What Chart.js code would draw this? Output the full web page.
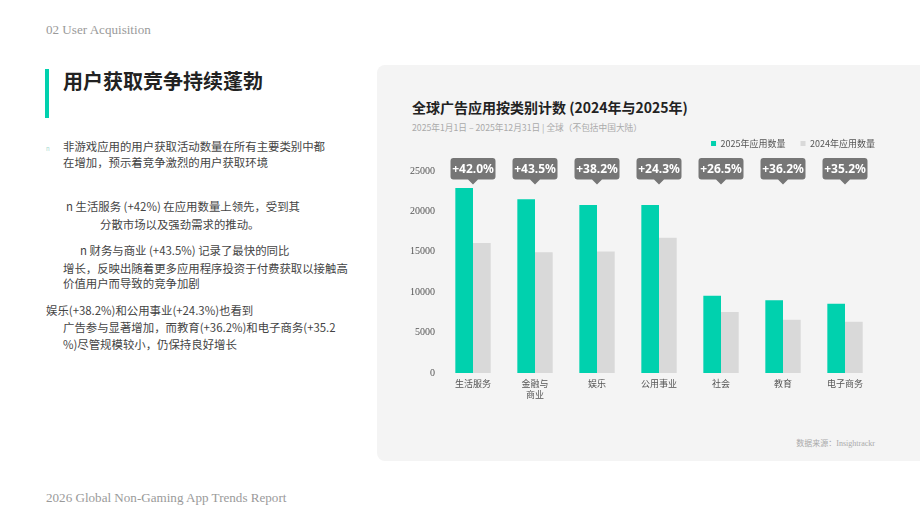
<!DOCTYPE html>
<html>
<head>
<meta charset="utf-8">
<script src="https://cdn.jsdelivr.net/npm/chart.js@4.4.1/dist/chart.umd.min.js"></script>
<style>
  html, body { margin:0; padding:0; width:920px; height:519px; overflow:hidden; background:#ffffff; }
  body { position:relative; font-family:"Noto Sans CJK SC","Noto Sans",sans-serif; }
  .abs { position:absolute; white-space:nowrap; }
  .serif { font-family:"Liberation Serif","DejaVu Serif",serif; color:#9a9a9a; font-size:13.1px; line-height:16px; }
  .para { font-size:11.4px; line-height:16px; color:#444; }
  #panel { position:absolute; left:377px; top:65px; width:580px; height:396px; background:#f4f4f4; border-radius:8px; }
  #chartWrap { position:absolute; left:378px; top:124px; width:542px; height:336px; }
</style>
</head>
<body>
<div class="abs serif" style="left:46px; top:22px;">02 User Acquisition</div>
<div class="abs" style="left:45px; top:69px; width:4px; height:49px; background:#00D1AE;"></div>
<div class="abs" style="left:63px; top:69px; font-size:20px; line-height:24px; font-weight:700; color:#222;">用户获取竞争持续蓬勃</div>

<div class="abs" style="left:46px; top:145px; font-size:6px; line-height:8px; color:#9fd8cf;">n</div>
<div class="abs para" style="left:63px; top:138px;">非游戏应用的用户获取活动数量在所有主要类别中都</div>
<div class="abs para" style="left:63px; top:154px;">在增加，预示着竞争激烈的用户获取环境</div>
<div class="abs para" style="left:66px; top:198px;">n 生活服务 (+42%) 在应用数量上领先，受到其</div>
<div class="abs para" style="left:100px; top:216px;">分散市场以及强劲需求的推动。</div>
<div class="abs para" style="left:80px; top:242px;">n 财务与商业 (+43.5%) 记录了最快的同比</div>
<div class="abs para" style="left:63px; top:260px;">增长，反映出随着更多应用程序投资于付费获取以接触高</div>
<div class="abs para" style="left:63px; top:275px;">价值用户而导致的竞争加剧</div>
<div class="abs para" style="left:46px; top:302px;">娱乐(+38.2%)和公用事业(+24.3%)也看到</div>
<div class="abs para" style="left:63px; top:319px;">广告参与显著增加，而教育(+36.2%)和电子商务(+35.2</div>
<div class="abs para" style="left:63px; top:336px;">%)尽管规模较小，仍保持良好增长</div>

<div class="abs serif" style="left:46px; top:490px;">2026 Global Non-Gaming App Trends Report</div>

<div id="panel"></div>
<div class="abs" style="left:412px; top:98px; font-size:14px; line-height:18px; font-weight:700; color:#222;">全球广告应用按类别计数 (2024年与2025年)</div>
<div class="abs" style="left:412px; top:122px; font-size:8.7px; line-height:12px; color:#aaa;">2025年1月1日 – 2025年12月31日 | 全球（不包括中国大陆）</div>
<div class="abs" style="right:45px; top:438px; font-size:8px; line-height:12px; color:#aaa; font-family:'Liberation Serif','Noto Sans CJK SC',serif;">数据来源：Insightrackr</div>

<div id="chartWrap"><canvas id="c" width="542" height="336"></canvas></div>

<script>
const categories = ['生活服务', ['金融与', '商业'], '娱乐', '公用事业', '社会', '教育', '电子商务'];
const apps2025 = [22900, 21500, 20800, 20800, 9550, 8990, 8580];
const apps2024 = [16100, 14950, 15050, 16730, 7550, 6600, 6340];
const growthLabels = ['+42.0%', '+43.5%', '+38.2%', '+24.3%', '+26.5%', '+36.2%', '+35.2%'];
const seriesNames = ['2025年应用数量', '2024年应用数量'];
const yMin = 0, yMax = 25000, yStep = 5000;

const legendGap = {
  id: 'legendGap',
  beforeInit(chart) {
    const lg = chart.legend;
    if (!lg) return;
    const origFit = lg.fit;
    lg.fit = function () { origFit.call(this); this.height += 13; };
  }
};

const badges = {
  id: 'badges',
  afterDatasetsDraw(chart) {
    const ctx = chart.ctx;
    const xs = chart.scales.x;
    const top = chart.chartArea.top;
    ctx.save();
    growthLabels.forEach((txt, i) => {
      const cx = xs.getPixelForValue(i);
      const w = 45, h = 21.5, r = 3;
      const y0 = top - 13, x0 = cx - w / 2;
      ctx.fillStyle = '#767676';
      ctx.beginPath();
      ctx.moveTo(x0 + r, y0);
      ctx.lineTo(x0 + w - r, y0);
      ctx.quadraticCurveTo(x0 + w, y0, x0 + w, y0 + r);
      ctx.lineTo(x0 + w, y0 + h - r);
      ctx.quadraticCurveTo(x0 + w, y0 + h, x0 + w - r, y0 + h);
      ctx.lineTo(cx + 5, y0 + h);
      ctx.lineTo(cx, y0 + h + 5);
      ctx.lineTo(cx - 5, y0 + h);
      ctx.lineTo(x0 + r, y0 + h);
      ctx.quadraticCurveTo(x0, y0 + h, x0, y0 + h - r);
      ctx.lineTo(x0, y0 + r);
      ctx.quadraticCurveTo(x0, y0, x0 + r, y0);
      ctx.closePath();
      ctx.fill();
      ctx.fillStyle = '#ffffff';
      ctx.font = 'bold 12px "Noto Sans", sans-serif';
      ctx.textAlign = 'center';
      ctx.textBaseline = 'middle';
      ctx.fillText(txt, cx, y0 + h / 2 + 0.5);
    });
    ctx.restore();
  }
};

new Chart(document.getElementById('c'), {
  type: 'bar',
  data: {
    labels: categories,
    datasets: [
      { label: seriesNames[0], data: apps2025, backgroundColor: '#00D1AE', borderWidth: 0 },
      { label: seriesNames[1], data: apps2024, backgroundColor: '#D9D9D9', borderWidth: 0 }
    ]
  },
  options: {
    responsive: false,
    animation: false,
    layout: { padding: { left: 0, right: 30, top: 0, bottom: 57 } },
    datasets: { bar: { categoryPercentage: 0.57, barPercentage: 1.0 } },
    plugins: {
      legend: {
        position: 'top',
        align: 'end',
        labels: {
          boxWidth: 5, boxHeight: 5, padding: 15,
          color: '#555',
          font: { size: 9, family: '"Noto Sans CJK SC", sans-serif' }
        }
      },
      tooltip: { enabled: false }
    },
    scales: {
      x: {
        grid: { display: false, drawTicks: false },
        border: { display: false },
        ticks: {
          color: '#555', padding: 5, maxRotation: 0, autoSkip: false,
          font: { size: 9, family: '"Noto Sans CJK SC", sans-serif', lineHeight: 1.2 }
        },
        afterFit(s) { s.height = 30; }
      },
      y: {
        min: yMin, max: yMax,
        grid: { display: false, drawTicks: false },
        border: { display: false },
        ticks: {
          stepSize: yStep, color: '#555', padding: 7,
          font: { size: 10, family: '"Liberation Serif", serif' },
          callback: (v) => String(v)
        },
        afterFit(s) { s.width = 64; }
      },
      yRight: {
        position: 'right',
        display: true,
        grid: { display: false, drawTicks: false },
        border: { display: false },
        ticks: { display: false },
        afterFit(s) { s.width = 14; }
      }
    }
  },
  plugins: [legendGap, badges]
});
</script>
</body>
</html>
